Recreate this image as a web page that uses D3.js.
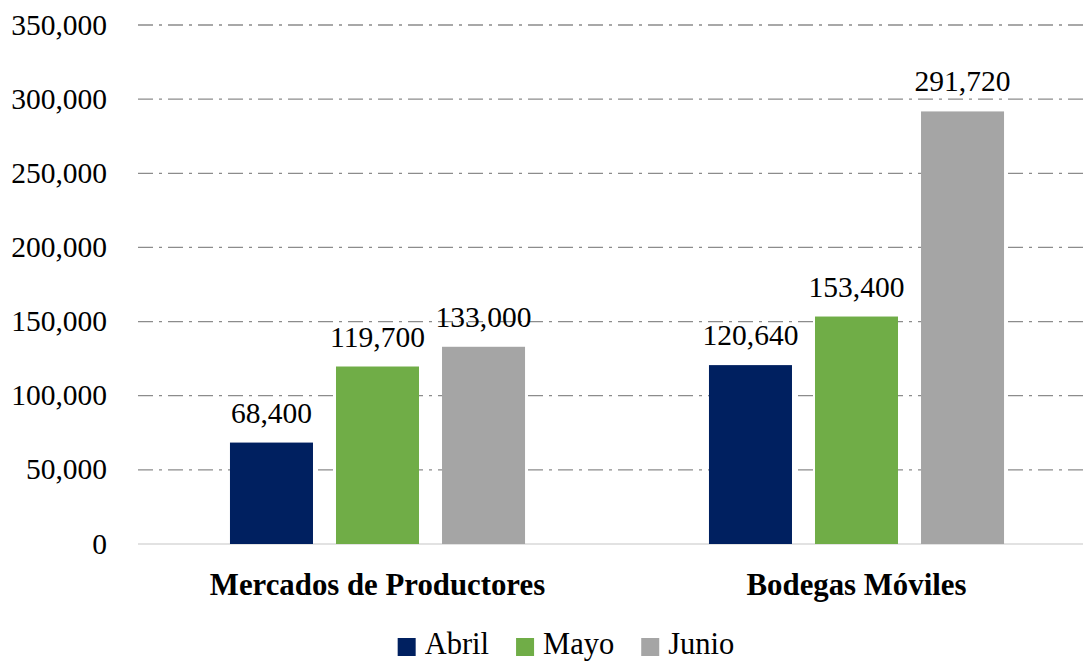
<!DOCTYPE html>
<html>
<head>
<meta charset="utf-8">
<script src="https://cdn.jsdelivr.net/npm/d3@7"></script>
<style>
  body { margin: 0; background: #fff; }
  text { font-family: "Liberation Serif", "Times New Roman", serif; fill: #000; }
</style>
</head>
<body>
<script>
// ----------------------------------------- Data ----------------------------------------- //
var categories = ["Mercados de Productores", "Bodegas Móviles"];
var series = ["Abril", "Mayo", "Junio"];
var abril = [68400, 120640];
var mayo = [119700, 153400];
var junio = [133000, 291720];
var yTicks = [0, 50000, 100000, 150000, 200000, 250000, 300000, 350000];
var colors = ["#002060", "#70AD47", "#A5A5A5"];

var values = [abril, mayo, junio];

// ----------------------------------------- SVG ----------------------------------------- //
var width = 1083, height = 662;
var plot = {left: 138, right: 1096, top: 25, bottom: 544};

var svg = d3.select("body").append("svg")
    .attr("width", width)
    .attr("height", height);

// scales
var x0 = d3.scaleBand()
    .domain(categories)
    .range([plot.left, plot.right])
    .paddingInner(0.384)
    .paddingOuter(0.192);

var x1 = d3.scaleBand()
    .domain(series)
    .range([0, x0.bandwidth()])
    .paddingInner(0.217)
    .paddingOuter(0);

var y = d3.scaleLinear()
    .domain([0, 350000])
    .range([plot.bottom, plot.top]);

var fmt = d3.format(",");

// gridlines
svg.append("g").attr("class", "grid")
    .selectAll("line")
    .data(yTicks.filter(function(d) { return d > 0; }))
    .enter().append("line")
        .attr("x1", plot.left)
        .attr("x2", width)
        .attr("y1", function(d) { return y(d); })
        .attr("y2", function(d) { return y(d); })
        .attr("stroke", "#8c8c8c")
        .attr("stroke-width", 1.3)
        .attr("stroke-dasharray", "15,6,3,6");

// baseline
svg.append("line")
    .attr("x1", plot.left)
    .attr("x2", width)
    .attr("y1", y(0))
    .attr("y2", y(0))
    .attr("stroke", "#d9d9d9")
    .attr("stroke-width", 1.5);

// y axis labels
svg.append("g").attr("class", "yaxis")
    .selectAll("text")
    .data(yTicks)
    .enter().append("text")
        .attr("x", 107)
        .attr("y", function(d) { return y(d) + 9.5; })
        .attr("text-anchor", "end")
        .attr("font-size", "29.5px")
        .text(function(d) { return fmt(d); });

// bars
var groups = svg.append("g").attr("class", "bars")
    .selectAll("g")
    .data(categories)
    .enter().append("g")
        .attr("transform", function(d) { return "translate(" + x0(d) + ",0)"; });

groups.selectAll("rect")
    .data(function(c, ci) { return series.map(function(s, si) { return {s: s, si: si, v: values[si][ci]}; }); })
    .enter().append("rect")
        .attr("x", function(d) { return x1(d.s); })
        .attr("y", function(d) { return y(d.v); })
        .attr("width", x1.bandwidth())
        .attr("height", function(d) { return y(0) - y(d.v); })
        .attr("fill", function(d) { return colors[d.si]; });

groups.selectAll("text")
    .data(function(c, ci) { return series.map(function(s, si) { return {s: s, si: si, v: values[si][ci]}; }); })
    .enter().append("text")
        .attr("x", function(d) { return x1(d.s) + x1.bandwidth() / 2; })
        .attr("y", function(d) { return y(d.v) - 20; })
        .attr("text-anchor", "middle")
        .attr("font-size", "29.5px")
        .text(function(d) { return fmt(d.v); });

// category labels
svg.append("g").attr("class", "xaxis")
    .selectAll("text")
    .data(categories)
    .enter().append("text")
        .attr("x", function(d) { return x0(d) + x0.bandwidth() / 2; })
        .attr("y", 595)
        .attr("text-anchor", "middle")
        .attr("font-size", "30.8px")
        .attr("font-weight", "bold")
        .text(function(d) { return d; });

// legend
var legend = svg.append("g").attr("class", "legend");
var lx = 0;
series.forEach(function(s, i) {
    var item = legend.append("g").attr("transform", "translate(" + lx + ",0)");
    item.append("rect")
        .attr("x", 0)
        .attr("y", 638)
        .attr("width", 18)
        .attr("height", 18)
        .attr("fill", colors[i]);
    var t = item.append("text")
        .attr("x", 27)
        .attr("y", 654)
        .attr("font-size", "30.5px")
        .text(s);
    lx += 27 + t.node().getComputedTextLength() + 27;
});
var lw = lx - 27;
legend.attr("transform", "translate(" + (566 - lw / 2) + ",0)");
</script>
</body>
</html>
